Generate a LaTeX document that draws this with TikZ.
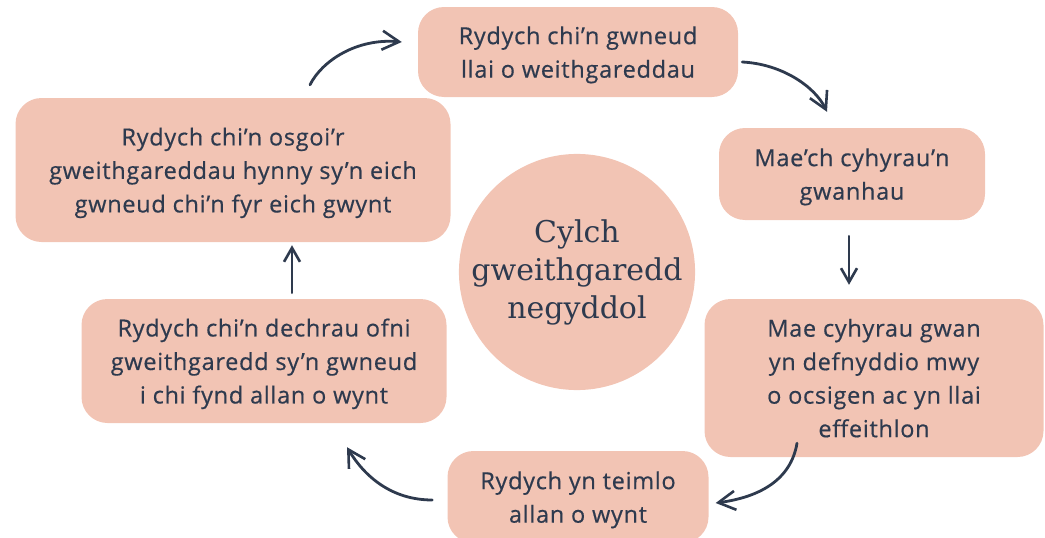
\documentclass[tikz,border=0pt]{standalone}
\usepackage{fontspec}
\setmainfont{Open Sans}[LetterSpace=3,FakeBold=0.5]
\newfontfamily\circfont{DejaVu Serif}
\usetikzlibrary{arrows.meta,calc}
\definecolor{boxfill}{HTML}{F2C4B4}
\definecolor{ink}{HTML}{2E3A4E}
\tikzset{
  stepbox/.style={draw=none,fill=boxfill,rounded corners=26pt,align=center,
    text=ink,font=\fontsize{23.5}{33.5}\selectfont,inner sep=0pt,
    text depth=-1pt},
  centre/.style={circle,fill=boxfill,draw=none,align=center,text=ink,
    font=\circfont\fontsize{30}{38}\selectfont,minimum size=236pt,inner sep=0pt},
  flow/.style={draw=ink,line width=2.8pt,line cap=round,
    -{Straight Barb[length=17pt,width=19pt,line width=2.6pt]}},
  shortflow/.style={flow,
    -{Straight Barb[length=14pt,width=16pt,line width=2.6pt]}}
}
\begin{document}
\begin{tikzpicture}[x=1pt,y=-1pt]
\useasboundingbox (0,0) rectangle (1045,538);
\clip (0,0) rectangle (1045,538);
\node[centre] (c) at (577,272) {Cylch\\gweithgaredd\\negyddol};
\node[stepbox,minimum width=320pt,minimum height=90pt] (b1) at (578,52)
  {Rydych chi’n gwneud\\llai o weithgareddau};
\node[stepbox,minimum width=266pt,minimum height=92pt] (b2) at (852,174)
  {Mae’ch cyhyrau’n\\gwanhau};
\node[stepbox,minimum width=339pt,minimum height=158pt] (b3) at (874,378)
  {Mae cyhyrau gwan\\yn defnyddio mwy\\o ocsigen ac yn llai\\effeithlon};
\node[stepbox,minimum width=261pt,minimum height=92pt] (b4) at (578,497)
  {Rydych yn teimlo\\allan o wynt};
\node[stepbox,minimum width=365pt,minimum height=124pt] (b5) at (264,361)
  {Rydych chi’n dechrau ofni\\gweithgaredd sy’n gwneud\\i chi fynd allan o wynt};
\node[stepbox,minimum width=435pt,minimum height=144pt] (b6) at (233,170)
  {Rydych chi’n osgoi’r\\gweithgareddau hynny sy’n eich\\gwneud chi’n fyr eich gwynt};
% connectors
\draw[flow] ($(b6.north)+(77,-13)$) .. controls +(12,-24) and +(-45,-4) .. ($(b1.west)+(-16,-10)$);
\draw[flow] ($(b1.east)+(4,10)$) .. controls +(40,2) and +(-12,-25) .. ($(b2.north)+(-25,-16)$);
\draw[shortflow] ($(b2.south)+(-3,16)$) -- ($(b3.north)+(-25,-14)$);
\draw[flow] ($(b3.south)+(-77,-14)$) .. controls +(-6,36) and +(45,-6) .. ($(b4.east)+(7,6)$);
\draw[flow] ($(b4.west)+(-15,3)$) .. controls +(-40,0) and +(18,30) .. ($(b5.south)+(83,24)$);
\draw[shortflow] ($(b5.north)+(28,-6)$) -- ($(b6.south)+(59,3)$);
\end{tikzpicture}
\end{document}
